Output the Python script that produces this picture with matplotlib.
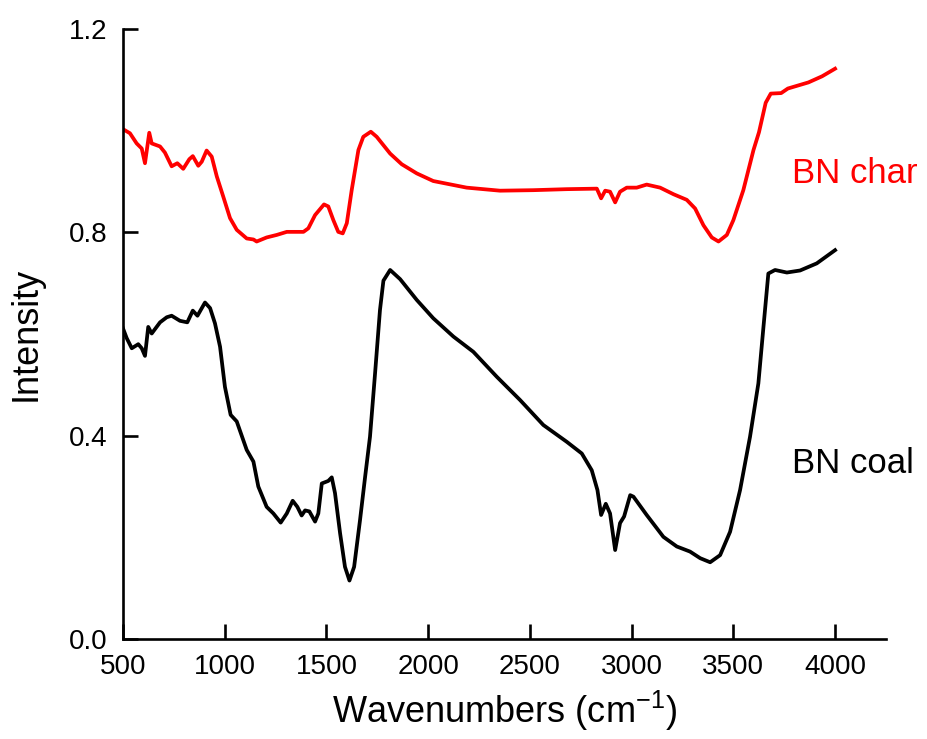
import matplotlib
matplotlib.use("Agg")
import matplotlib.pyplot as plt

plt.rcParams['font.family'] = ['Liberation Sans', 'DejaVu Sans']
plt.rcParams['mathtext.default'] = 'regular'

# BN char (red)
char_x = [500, 534, 567, 592, 608, 629, 641, 682, 706, 739, 767, 796, 826, 843, 870, 887,
          911, 936, 961, 993, 1026, 1059, 1108, 1141, 1157, 1206, 1256, 1305, 1387, 1411,
          1444, 1488, 1509, 1534, 1558, 1580, 1600, 1624, 1657, 1681, 1718, 1747, 1813,
          1870, 1944, 2025, 2189, 2353, 2517, 2681, 2829, 2850, 2870, 2894, 2919, 2943,
          2976, 3025, 3074, 3140, 3206, 3271, 3312, 3353, 3394, 3427, 3468, 3500, 3549,
          3599, 3626, 3659, 3684, 3735, 3768, 3869, 3936, 4000]
char_y = [1.003, 0.995, 0.975, 0.965, 0.936, 0.996, 0.975, 0.969, 0.957, 0.930, 0.936,
          0.925, 0.944, 0.950, 0.931, 0.939, 0.961, 0.949, 0.910, 0.870, 0.828, 0.805,
          0.788, 0.786, 0.782, 0.790, 0.795, 0.801, 0.801, 0.808, 0.834, 0.855, 0.851,
          0.824, 0.801, 0.798, 0.818, 0.883, 0.962, 0.988, 0.998, 0.988, 0.955, 0.934,
          0.916, 0.901, 0.888, 0.882, 0.883, 0.885, 0.886, 0.867, 0.882, 0.880, 0.859,
          0.880, 0.888, 0.888, 0.894, 0.888, 0.875, 0.864, 0.847, 0.814, 0.790, 0.782,
          0.795, 0.824, 0.883, 0.962, 0.997, 1.055, 1.073, 1.074, 1.083, 1.095, 1.107,
          1.122]

# BN coal (black)
coal_x = [500, 518, 543, 575, 592, 608, 624, 641, 682, 715, 739, 780, 816, 843, 866, 903,
          928, 952, 977, 1001, 1029, 1059, 1108, 1141, 1165, 1206, 1239, 1275, 1305, 1334,
          1357, 1378, 1395, 1416, 1444, 1460, 1477, 1509, 1526, 1542, 1567, 1591, 1613,
          1636, 1665, 1690, 1714, 1739, 1763, 1780, 1813, 1862, 1944, 2025, 2124, 2222,
          2337, 2452, 2566, 2681, 2755, 2804, 2832, 2850, 2873, 2894, 2919, 2943, 2963,
          2993, 3009, 3074, 3156, 3222, 3287, 3337, 3386, 3435, 3484, 3533, 3582, 3623,
          3648, 3672, 3705, 3763, 3828, 3910, 4000]
coal_y = [0.611, 0.592, 0.572, 0.580, 0.572, 0.557, 0.614, 0.601, 0.623, 0.633, 0.636,
          0.626, 0.623, 0.646, 0.636, 0.662, 0.651, 0.621, 0.575, 0.496, 0.441, 0.428,
          0.372, 0.349, 0.300, 0.260, 0.247, 0.229, 0.247, 0.272, 0.260, 0.243, 0.253,
          0.251, 0.231, 0.247, 0.306, 0.311, 0.318, 0.287, 0.208, 0.142, 0.115, 0.142,
          0.234, 0.319, 0.398, 0.523, 0.647, 0.705, 0.726, 0.708, 0.667, 0.631, 0.595,
          0.565, 0.516, 0.470, 0.421, 0.388, 0.365, 0.332, 0.293, 0.244, 0.266, 0.247,
          0.175, 0.228, 0.241, 0.283, 0.280, 0.244, 0.201, 0.182, 0.172, 0.159, 0.151,
          0.165, 0.211, 0.293, 0.398, 0.503, 0.614, 0.719, 0.726, 0.721, 0.725, 0.739,
          0.765]

x_ticks = [500, 1000, 1500, 2000, 2500, 3000, 3500, 4000]
y_ticks = [0.0, 0.4, 0.8, 1.2]

fig = plt.figure(figsize=(9.27, 7.39), dpi=100)
ax = fig.add_axes([0.1327, 0.1353, 0.823, 0.8254])

ax.plot(char_x, char_y, color='#ff0000', linewidth=2.7, solid_joinstyle='round')
ax.plot(coal_x, coal_y, color='black', linewidth=2.7, solid_joinstyle='round')

ax.text(3790, 0.897, 'BN char', color='#ff0000', fontsize=25)
ax.text(3790, 0.327, 'BN coal', color='black', fontsize=25)

ax.set_xlim(500, 4250)
ax.set_ylim(0, 1.2)
ax.set_xticks(x_ticks)
ax.set_yticks(y_ticks)
ax.set_yticklabels([f'{v:.1f}' for v in y_ticks])

for s in ['top', 'right']:
    ax.spines[s].set_visible(False)
for s in ['left', 'bottom']:
    ax.spines[s].set_linewidth(1.9)

ax.tick_params(direction='in', length=11, width=1.9, labelsize=20, pad=11)

ax.set_xlabel(r'Wavenumbers (cm$^{-1}$)', fontsize=26, labelpad=6)
ax.set_ylabel('Intensity', fontsize=26, labelpad=18)

fig.savefig('out.png', dpi=100)
